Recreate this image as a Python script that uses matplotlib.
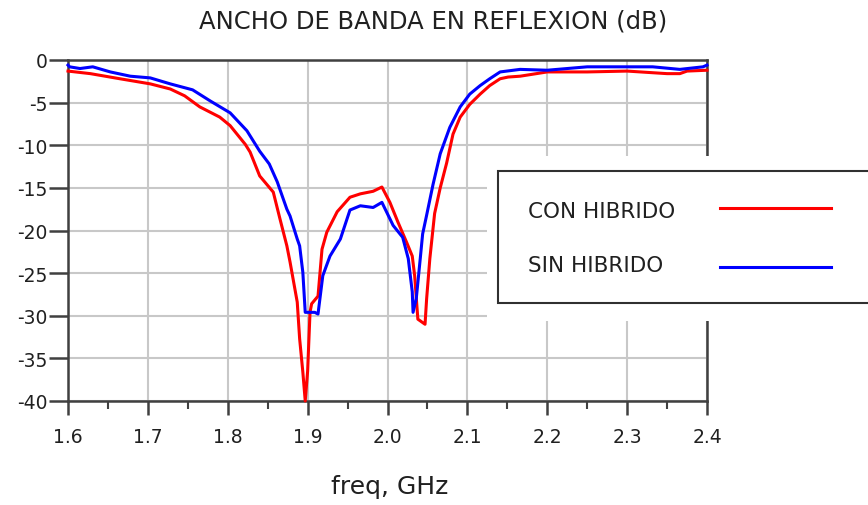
import numpy as np
import matplotlib.pyplot as plt
from matplotlib.patches import Rectangle
from matplotlib.lines import Line2D

plt.rcParams['font.family'] = ['DejaVu Sans']

# CON HIBRIDO (red)
freq_con = [1.600, 1.628, 1.665, 1.703, 1.728, 1.746, 1.765, 1.790, 1.803, 1.822,
            1.828, 1.840, 1.857, 1.865, 1.874, 1.878, 1.887, 1.890, 1.894, 1.897,
            1.900, 1.903, 1.905, 1.913, 1.918, 1.924, 1.937, 1.953, 1.966, 1.982,
            1.993, 2.003, 2.013, 2.024, 2.031, 2.034, 2.038, 2.047, 2.049, 2.053,
            2.059, 2.066, 2.074, 2.082, 2.091, 2.103, 2.116, 2.128, 2.141, 2.151,
            2.166, 2.200, 2.250, 2.300, 2.350, 2.366, 2.375, 2.400]
s11_con = [-1.3, -1.6, -2.2, -2.8, -3.4, -4.2, -5.5, -6.7, -7.7, -9.9,
           -10.8, -13.6, -15.5, -18.5, -21.8, -23.7, -28.4, -32.7, -36.6, -40.0,
           -36.5, -29.6, -28.6, -27.7, -22.2, -20.2, -17.8, -16.1, -15.7, -15.4,
           -14.9, -16.7, -19.0, -21.4, -23.0, -25.3, -30.4, -31.0, -28.0, -23.3,
           -18.0, -15.0, -12.1, -8.7, -6.7, -5.2, -4.0, -3.0, -2.2, -2.0,
           -1.9, -1.4, -1.4, -1.3, -1.6, -1.6, -1.3, -1.2]

# SIN HIBRIDO (blue)
freq_sin = [1.600, 1.602, 1.615, 1.631, 1.653, 1.678, 1.703, 1.728, 1.756, 1.778,
            1.803, 1.824, 1.840, 1.852, 1.862, 1.874, 1.878, 1.887, 1.890, 1.894,
            1.897, 1.909, 1.913, 1.919, 1.928, 1.941, 1.953, 1.966, 1.982, 1.993,
            2.007, 2.019, 2.026, 2.031, 2.032, 2.036, 2.041, 2.044, 2.049, 2.057,
            2.066, 2.078, 2.091, 2.103, 2.116, 2.128, 2.141, 2.166, 2.200, 2.250,
            2.300, 2.332, 2.366, 2.395, 2.400]
s11_sin = [-0.6, -0.8, -1.0, -0.8, -1.4, -1.9, -2.1, -2.8, -3.5, -4.8,
           -6.2, -8.3, -10.7, -12.2, -14.3, -17.5, -18.3, -21.0, -21.8, -24.9,
           -29.6, -29.6, -29.8, -25.3, -23.0, -21.0, -17.6, -17.1, -17.3, -16.7,
           -19.4, -20.8, -23.3, -27.2, -29.6, -28.0, -23.3, -20.4, -18.2, -14.6,
           -11.0, -7.9, -5.5, -4.0, -3.0, -2.2, -1.4, -1.1, -1.2, -0.8,
           -0.8, -0.8, -1.1, -0.8, -0.6]

xticks = [1.6, 1.7, 1.8, 1.9, 2.0, 2.1, 2.2, 2.3, 2.4]
yticks = [0, -5, -10, -15, -20, -25, -30, -35, -40]

W, H = 868, 506
fig = plt.figure(figsize=(W / 100, H / 100), dpi=100)
ax = fig.add_axes([68 / W, 1 - 402 / H, (707 - 68) / W, (402 - 61) / H])

ax.plot(freq_con, s11_con, color='#ff0000', lw=2.2, clip_on=False, zorder=3)
ax.plot(freq_sin, s11_sin, color='#0000ff', lw=2.2, clip_on=False, zorder=3)

ax.set_xlim(1.6, 2.4)
ax.set_ylim(-40, 0)
ax.set_xticks(xticks)
ax.set_xticklabels(['%.1f' % t for t in xticks])
ax.set_xticks(np.arange(1.65, 2.4, 0.1), minor=True)
ax.set_yticks(yticks)
ax.set_yticklabels([str(t) for t in yticks])
ax.grid(True, color='#c8c8c8', lw=1.5)
ax.set_axisbelow(True)

spine_col = '#404040'
for side in ['top', 'left', 'bottom', 'right']:
    ax.spines[side].set_color(spine_col)
    ax.spines[side].set_linewidth(1.8)
ax.tick_params(axis='y', direction='out', length=14, width=1.8, color=spine_col,
               labelsize=13.5, pad=1, labelcolor='#202020')
ax.tick_params(axis='x', which='major', direction='out', length=10, width=1.8,
               color=spine_col, labelsize=13.5, pad=9, labelcolor='#202020')
ax.tick_params(axis='x', which='minor', direction='out', length=6, width=1.5,
               color=spine_col)

# white area behind the legend covers grid and right spine
mask = Rectangle((487 / W, 1 - 322 / H), (W - 487) / W, (322 - 157) / H,
                 transform=fig.transFigure, facecolor='white', edgecolor='none',
                 zorder=4)
fig.add_artist(mask)
box = Rectangle((498 / W, 1 - 304 / H), (W + 5 - 498) / W, (304 - 172) / H,
                transform=fig.transFigure, facecolor='white', edgecolor='#303030',
                lw=1.5, zorder=5)
fig.add_artist(box)
fig.text(528 / W, 1 - 212 / H, 'CON HIBRIDO', fontsize=15.5, va='center',
         color='#202020', zorder=6)
fig.text(528 / W, 1 - 266 / H, 'SIN HIBRIDO', fontsize=15.5, va='center',
         color='#202020', zorder=6)
fig.add_artist(Line2D([720 / W, 831 / W], [1 - 209 / H, 1 - 209 / H], color='#ff0000',
                      lw=2.2, transform=fig.transFigure, zorder=6))
fig.add_artist(Line2D([720 / W, 831 / W], [1 - 268 / H, 1 - 268 / H], color='#0000ff',
                      lw=2.2, transform=fig.transFigure, zorder=6))

fig.text(433 / W, 1 - 22 / H, 'ANCHO DE BANDA EN REFLEXION (dB)', fontsize=17.5,
         ha='center', va='center', color='#202020')
fig.text(390 / W, 1 - 487 / H, 'freq, GHz', fontsize=18, ha='center', va='center',
         color='#202020')

fig.savefig('out.png', dpi=100)
